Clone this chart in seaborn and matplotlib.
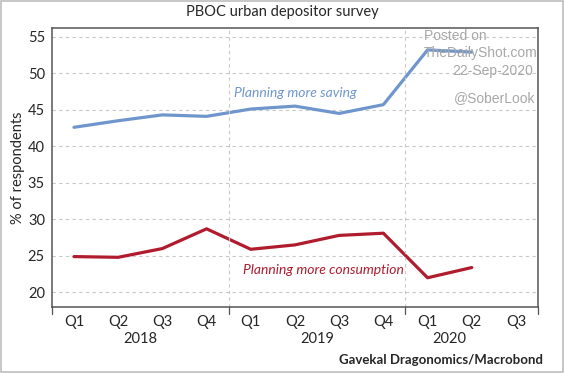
import numpy as np
import matplotlib.pyplot as plt
import seaborn as sns
import pandas as pd
from matplotlib.patches import Rectangle
import matplotlib.transforms as mtransforms

# --- data ---
quarters = ['Q1', 'Q2', 'Q3', 'Q4', 'Q1', 'Q2', 'Q3', 'Q4', 'Q1', 'Q2', 'Q3']
years = ['2018', '2019', '2020']
year_centers = [1.5, 5.5, 8.5]
year_bounds = [-0.5, 3.5, 7.5, 10.5]
saving = [42.6, 43.5, 44.3, 44.1, 45.1, 45.5, 44.5, 45.7, 53.2, 52.9, np.nan]
consumption = [24.9, 24.8, 26.0, 28.7, 25.9, 26.5, 27.8, 28.1, 22.0, 23.4, np.nan]
yticks = [20, 25, 30, 35, 40, 45, 50, 55]

df = pd.DataFrame({'idx': range(len(quarters)),
                   'saving': saving, 'consumption': consumption})

sns.set_style('white')
plt.rcParams['font.family'] = ['Lato', 'DejaVu Sans']

fig = plt.figure(figsize=(5.64, 3.73), dpi=100)
ax = fig.add_axes([0.092, 0.177, 0.862, 0.748])

blue = '#6f96cc'
red = '#b01c2e'
sns.lineplot(data=df, x='idx', y='saving', ax=ax, color=blue, lw=2.3)
sns.lineplot(data=df, x='idx', y='consumption', ax=ax, color=red, lw=2.3)

ax.set_xlim(-0.5, 10.5)
ax.set_ylim(18, 56.2)
ax.set_yticks(yticks)
ax.set_yticklabels([str(t) for t in yticks], fontsize=10.5)
ax.set_xticks(range(len(quarters)))
ax.set_xticklabels(quarters, fontsize=10.5)
ax.tick_params(axis='x', which='major', length=0, pad=6)
ax.set_xticks(np.arange(-0.5, 10.6, 1), minor=True)
ax.tick_params(axis='x', which='minor', length=3, width=0.8, color='#555555', direction='out')
ax.tick_params(axis='y', length=3, width=0.8, color='#555555', direction='out', pad=2)
ax.set_xlabel('')
ax.set_ylabel('% of respondents', fontsize=10.5, labelpad=2)

# grid
ax.grid(axis='y', ls=(0, (3, 3)), color='#c8c8c8', lw=0.8)
for b in year_bounds[1:-1]:
    ax.axvline(b, ls=(0, (3, 3)), color='#c8c8c8', lw=0.8)
for b in year_bounds:
    ax.axvline(b, ymin=-0.025, ymax=0, color='#555555', lw=0.9, clip_on=False)

for s in ax.spines.values():
    s.set_color('#555555')
    s.set_linewidth(1.1)

# year labels
trans = mtransforms.blended_transform_factory(ax.transData, ax.transAxes)
for yc, yl in zip(year_centers, years):
    ax.text(yc, -0.09, yl, transform=trans, ha='center', va='top', fontsize=10.5)

ax.text(5.0, 47.3, 'Planning more saving', color=blue, fontsize=10,
        style='italic', ha='center', va='center')
ax.text(5.65, 23.1, 'Planning more consumption', color=red, fontsize=10,
        style='italic', ha='center', va='center')

# watermark
wm = dict(color='#a8a8a8', family='Liberation Sans', fontsize=10)
fig.text(0.807, 0.903, 'Posted on', ha='center', va='center', **wm)
fig.text(0.852, 0.857, 'TheDailyShot.com', ha='center', va='center', **wm)
fig.text(0.945, 0.81, '22-Sep-2020', ha='right', va='center', **wm)
fig.text(0.949, 0.737, '@SoberLook', ha='right', va='center', **wm)

fig.text(0.5, 0.968, 'PBOC urban depositor survey', ha='center', va='center', fontsize=10.5)
fig.text(0.962, 0.035, 'Gavekal Dragonomics/Macrobond', ha='right', va='center',
         fontsize=9.5, fontweight='bold')

fig.patches.append(Rectangle((0.002, 0.003), 0.996, 0.994, transform=fig.transFigure,
                             fill=False, edgecolor='#bdbdbd', lw=1.2))

fig.savefig('out.png', dpi=100)
